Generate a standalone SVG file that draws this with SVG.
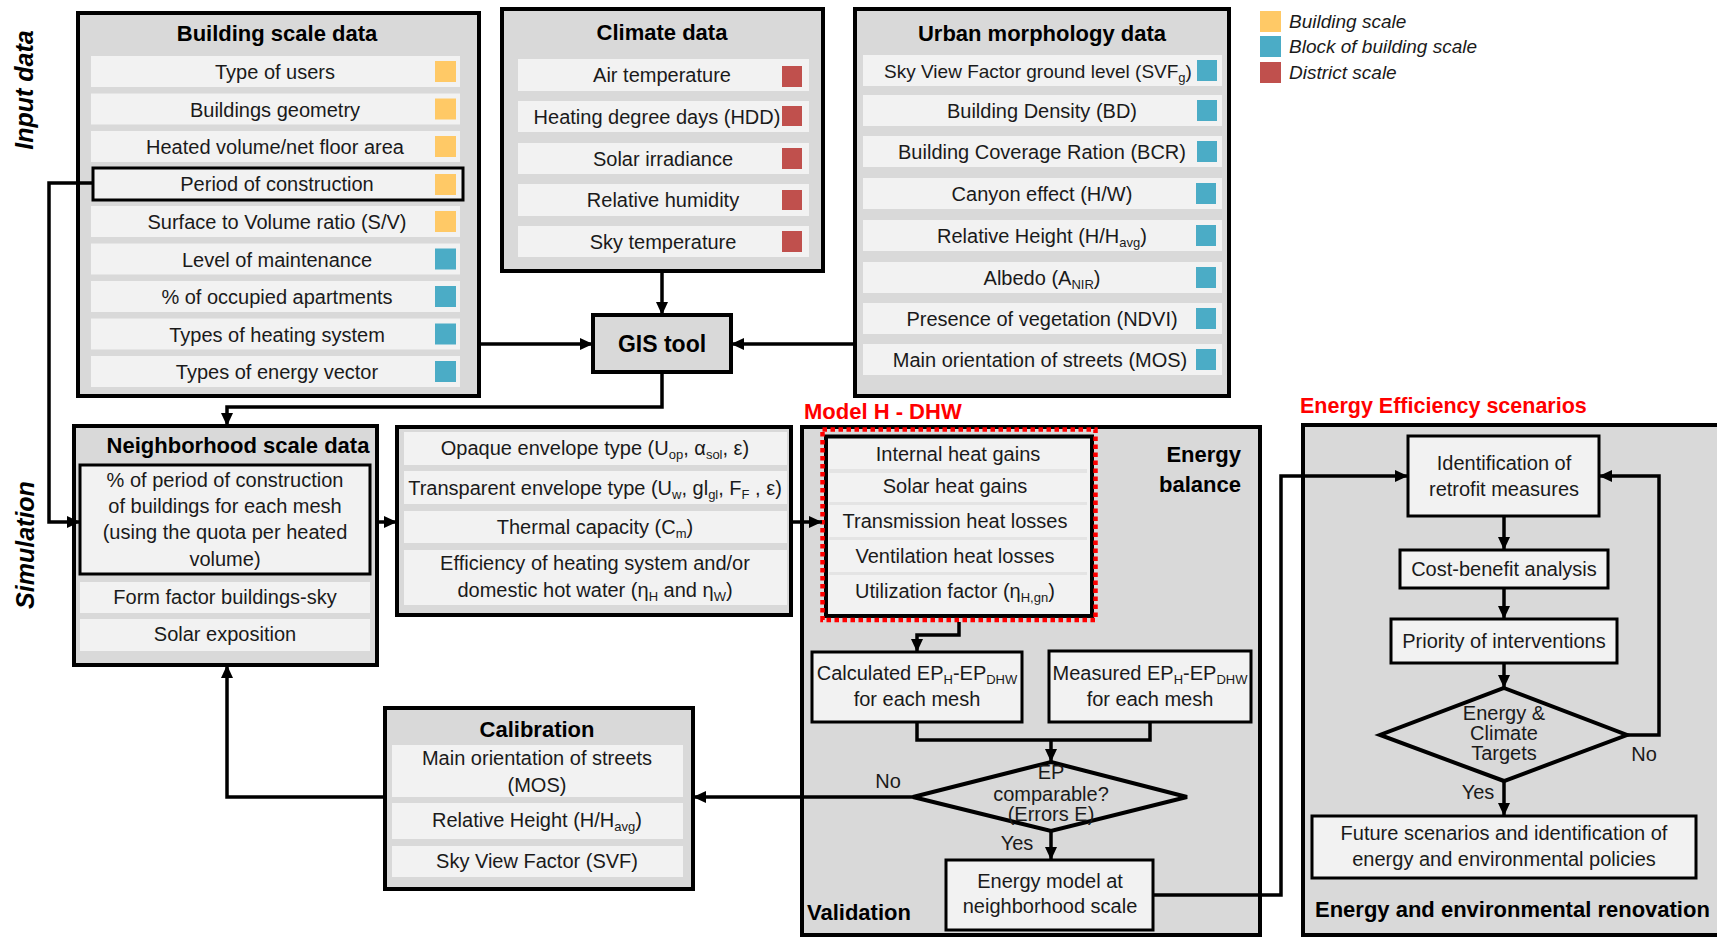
<svg xmlns="http://www.w3.org/2000/svg" width="1717" height="937" viewBox="0 0 1717 937">
<defs>
<marker id="a" markerWidth="14" markerHeight="12" refX="13" refY="6" orient="auto" markerUnits="userSpaceOnUse"><path d="M0,0 L13,6 L0,12 z" fill="#000"/></marker>
<style>
.box{fill:#D9D9D9;stroke:#000;stroke-width:4}
.row{fill:#F2F2F2}
.ol{fill:#F2F2F2;stroke:#000;stroke-width:3}
.t{font-family:'Liberation Sans',Arial,sans-serif;font-size:20px;fill:#1a1a1a;text-anchor:middle}
.h{font-family:'Liberation Sans',Arial,sans-serif;font-size:22px;font-weight:bold;fill:#000;text-anchor:middle}
.red{fill:#FF0000;text-anchor:start}
.lg{font-family:'Liberation Sans',Arial,sans-serif;font-size:19px;font-style:italic;fill:#1a1a1a}
.side{font-family:'Liberation Sans',Arial,sans-serif;font-size:25px;font-weight:bold;font-style:italic;fill:#000;text-anchor:middle}
.Y{fill:#FFC966}
.B{fill:#4BACC6}
.R{fill:#C0504D}
.c{fill:none;stroke:#000;stroke-width:3.5}
</style>
</defs>
<rect width="1717" height="937" fill="#fff"/>

<g id="side-labels">
<text class="side" transform="translate(33,90) rotate(-90)">Input data</text>
<text class="side" transform="translate(34,545) rotate(-90)">Simulation</text>
</g>

<g id="legend">
<rect class="Y" x="1260" y="11" width="21" height="21"/>
<rect class="B" x="1260" y="36" width="21" height="21"/>
<rect class="R" x="1260" y="62" width="21" height="21"/>
<text class="lg" x="1289" y="28">Building scale</text>
<text class="lg" x="1289" y="53">Block of building scale</text>
<text class="lg" x="1289" y="79">District scale</text>
</g>

<g id="building-scale-data">
<rect class="box" x="78" y="13" width="401" height="383"/>
<text class="h" x="277" y="41">Building scale data</text>
<rect class="row" x="91" y="56" width="369" height="31"/>
<rect class="row" x="91" y="93.5" width="369" height="31"/>
<rect class="row" x="91" y="131" width="369" height="31"/>
<rect class="ol" x="93" y="168" width="370" height="32"/>
<rect class="row" x="91" y="206" width="369" height="31"/>
<rect class="row" x="91" y="243.5" width="369" height="31"/>
<rect class="row" x="91" y="281" width="369" height="31"/>
<rect class="row" x="91" y="318.5" width="369" height="31"/>
<rect class="row" x="91" y="356" width="369" height="31"/>
<rect class="Y" x="435" y="61" width="21" height="21"/>
<rect class="Y" x="435" y="98.5" width="21" height="21"/>
<rect class="Y" x="435" y="136" width="21" height="21"/>
<rect class="Y" x="435" y="174" width="21" height="21"/>
<rect class="Y" x="435" y="211" width="21" height="21"/>
<rect class="B" x="435" y="248.5" width="21" height="21"/>
<rect class="B" x="435" y="286" width="21" height="21"/>
<rect class="B" x="435" y="323.5" width="21" height="21"/>
<rect class="B" x="435" y="361" width="21" height="21"/>
<text class="t" x="275" y="79">Type of users</text>
<text class="t" x="275" y="116.5">Buildings geometry</text>
<text class="t" x="275" y="154">Heated volume/net floor area</text>
<text class="t" x="277" y="191">Period of construction</text>
<text class="t" x="277" y="229">Surface to Volume ratio (S/V)</text>
<text class="t" x="277" y="266.5">Level of maintenance</text>
<text class="t" x="277" y="304">% of occupied apartments</text>
<text class="t" x="277" y="341.5">Types of heating system</text>
<text class="t" x="277" y="379">Types of energy vector</text>
</g>

<g id="climate-data">
<rect class="box" x="502" y="9" width="321" height="262"/>
<text class="h" x="662" y="40">Climate data</text>
<rect class="row" x="518" y="59" width="291" height="32"/>
<rect class="row" x="518" y="101" width="291" height="31"/>
<rect class="row" x="518" y="143" width="291" height="31"/>
<rect class="row" x="518" y="184" width="291" height="32"/>
<rect class="row" x="518" y="226" width="291" height="31"/>
<rect class="R" x="782" y="66" width="20" height="21"/>
<rect class="R" x="782" y="106" width="20" height="20"/>
<rect class="R" x="782" y="148" width="20" height="21"/>
<rect class="R" x="782" y="190" width="20" height="20"/>
<rect class="R" x="782" y="231" width="20" height="21"/>
<text class="t" x="662" y="82">Air temperature</text>
<text class="t" x="657" y="124">Heating degree days (HDD)</text>
<text class="t" x="663" y="166">Solar irradiance</text>
<text class="t" x="663" y="207">Relative humidity</text>
<text class="t" x="663" y="249">Sky temperature</text>
</g>

<g id="urban-morphology-data">
<rect class="box" x="855" y="9" width="374" height="387"/>
<text class="h" x="1042" y="41">Urban morphology data</text>
<rect class="row" x="863" y="55" width="359" height="31"/>
<rect class="row" x="863" y="95" width="359" height="31"/>
<rect class="row" x="863" y="136" width="359" height="31"/>
<rect class="row" x="863" y="178" width="359" height="31"/>
<rect class="row" x="863" y="220" width="359" height="31"/>
<rect class="row" x="863" y="262" width="359" height="31"/>
<rect class="row" x="863" y="303" width="359" height="31"/>
<rect class="row" x="863" y="344" width="359" height="31"/>
<rect class="B" x="1197" y="60" width="20" height="21"/>
<rect class="B" x="1197" y="100" width="20" height="21"/>
<rect class="B" x="1197" y="141" width="20" height="21"/>
<rect class="B" x="1196" y="183" width="20" height="21"/>
<rect class="B" x="1196" y="225" width="20" height="21"/>
<rect class="B" x="1196" y="267" width="20" height="21"/>
<rect class="B" x="1196" y="308" width="20" height="21"/>
<rect class="B" x="1196" y="349" width="20" height="21"/>
<text class="t" x="1038" y="78" style="font-size:19px">Sky View Factor ground level (SVF<tspan font-size="13" dy="4">g</tspan><tspan dy="-4">)</tspan></text>
<text class="t" x="1042" y="118">Building Density (BD)</text>
<text class="t" x="1042" y="159">Building Coverage Ration (BCR)</text>
<text class="t" x="1042" y="201">Canyon effect (H/W)</text>
<text class="t" x="1042" y="243">Relative Height (H/H<tspan font-size="13" dy="4">avg</tspan><tspan dy="-4">)</tspan></text>
<text class="t" x="1042" y="285">Albedo (A<tspan font-size="13" dy="4">NIR</tspan><tspan dy="-4">)</tspan></text>
<text class="t" x="1042" y="326">Presence of vegetation (NDVI)</text>
<text class="t" x="1040" y="367">Main orientation of streets (MOS)</text>
</g>

<g id="gis-tool">
<rect class="box" x="593" y="315" width="138" height="57"/>
<text class="h" x="662" y="352" style="font-size:23px">GIS tool</text>
</g>

<g id="neighborhood-scale-data">
<rect class="box" x="74" y="426" width="303" height="239"/>
<text class="h" x="238" y="453">Neighborhood scale data</text>
<rect class="ol" x="80" y="465" width="290" height="109"/>
<text class="t" x="225" y="487">% of period of construction</text>
<text class="t" x="225" y="513">of buildings for each mesh</text>
<text class="t" x="225" y="539">(using the quota per heated</text>
<text class="t" x="225" y="566">volume)</text>
<rect class="row" x="80" y="582" width="290" height="31"/>
<rect class="row" x="80" y="619" width="290" height="32"/>
<text class="t" x="225" y="604">Form factor buildings-sky</text>
<text class="t" x="225" y="641">Solar exposition</text>
</g>

<g id="building-parameters">
<rect class="box" x="397" y="427" width="394" height="188"/>
<rect class="row" x="404" y="432" width="383" height="33"/>
<rect class="row" x="404" y="471" width="383" height="33"/>
<rect class="row" x="404" y="511" width="383" height="32"/>
<rect class="row" x="404" y="550" width="383" height="55"/>
<text class="t" x="595" y="455">Opaque envelope type (U<tspan font-size="13" dy="4">op</tspan><tspan dy="-4">, α</tspan><tspan font-size="13" dy="4">sol</tspan><tspan dy="-4">, ε)</tspan></text>
<text class="t" x="595" y="495">Transparent envelope type (U<tspan font-size="13" dy="4">w</tspan><tspan dy="-4">, gl</tspan><tspan font-size="13" dy="4">gl</tspan><tspan dy="-4">, F</tspan><tspan font-size="13" dy="4">F</tspan><tspan dy="-4"> , ε)</tspan></text>
<text class="t" x="595" y="534">Thermal capacity (C<tspan font-size="13" dy="4">m</tspan><tspan dy="-4">)</tspan></text>
<text class="t" x="595" y="570">Efficiency of heating system and/or</text>
<text class="t" x="595" y="597">domestic hot water (η<tspan font-size="13" dy="4">H</tspan><tspan dy="-4"> and η</tspan><tspan font-size="13" dy="4">W</tspan><tspan dy="-4">)</tspan></text>
</g>

<g id="validation">
<rect class="box" x="802" y="427" width="458" height="508"/>
<text class="h" x="1241" y="462" style="text-anchor:end">Energy</text>
<text class="h" x="1241" y="492" style="text-anchor:end">balance</text>
<text class="h" x="807" y="920" style="text-anchor:start">Validation</text>
</g>

<g id="model-h-dhw">
<text class="h red" x="804" y="419">Model H - DHW</text>
<rect x="826" y="436.5" width="266" height="179.5" fill="#F2F2F2" stroke="#000" stroke-width="4"/>
<rect class="row" x="829" y="439" width="258" height="30"/>
<rect class="row" x="829" y="473" width="258" height="29"/>
<rect class="row" x="829" y="505" width="258" height="32"/>
<rect class="row" x="829" y="540" width="258" height="32"/>
<rect class="row" x="829" y="575" width="258" height="33"/>
<g fill="#E4E4E4"><rect x="829" y="469" width="258" height="4"/><rect x="829" y="502" width="258" height="3"/><rect x="829" y="537" width="258" height="3"/><rect x="829" y="572" width="258" height="3"/></g>
<text class="t" x="958" y="461">Internal heat gains</text>
<text class="t" x="955" y="493">Solar heat gains</text>
<text class="t" x="955" y="528">Transmission heat losses</text>
<text class="t" x="955" y="563">Ventilation heat losses</text>
<text class="t" x="955" y="598">Utilization factor (η<tspan font-size="13" dy="4">H,gn</tspan><tspan dy="-4">)</tspan></text>
<rect x="822.5" y="429.5" width="273" height="190.5" fill="none" stroke="#FF0000" stroke-width="4.5" stroke-dasharray="4.5 3.5"/>
</g>

<g id="calculated-ep">
<rect class="ol" x="812" y="652" width="210" height="70"/>
<text class="t" x="917" y="680">Calculated EP<tspan font-size="13" dy="4">H</tspan><tspan dy="-4">-EP</tspan><tspan font-size="13" dy="4">DHW</tspan></text>
<text class="t" x="917" y="706">for each mesh</text>
</g>

<g id="measured-ep">
<rect class="ol" x="1049" y="651" width="202" height="71"/>
<text class="t" x="1150" y="680">Measured EP<tspan font-size="13" dy="4">H</tspan><tspan dy="-4">-EP</tspan><tspan font-size="13" dy="4">DHW</tspan></text>
<text class="t" x="1150" y="706">for each mesh</text>
</g>

<g id="ep-comparable">
<polygon points="1051,762 1187,797 1051,831 913,797" fill="#D9D9D9" stroke="#000" stroke-width="4"/>
<text class="t" x="1051" y="779">EP</text>
<text class="t" x="1051" y="801">comparable?</text>
<text class="t" x="1051" y="821">(Errors E)</text>
</g>

<g id="energy-model">
<rect class="ol" x="946" y="860" width="207" height="70"/>
<text class="t" x="1050" y="888">Energy model at</text>
<text class="t" x="1050" y="913">neighborhood scale</text>
</g>

<g id="calibration">
<rect class="box" x="385" y="708" width="308" height="181"/>
<text class="h" x="537" y="737">Calibration</text>
<rect class="row" x="392" y="745" width="291" height="52"/>
<rect class="row" x="392" y="803" width="291" height="36"/>
<rect class="row" x="392" y="846" width="291" height="31"/>
<text class="t" x="537" y="765">Main orientation of streets</text>
<text class="t" x="537" y="792">(MOS)</text>
<text class="t" x="537" y="827">Relative Height (H/H<tspan font-size="13" dy="4">avg</tspan><tspan dy="-4">)</tspan></text>
<text class="t" x="537" y="868">Sky View Factor (SVF)</text>
</g>

<g id="energy-efficiency-scenarios">
<text class="h red" x="1300" y="413" style="font-size:21.5px">Energy Efficiency scenarios</text>
<rect class="box" x="1303" y="425" width="420" height="510"/>
<text class="h" x="1315" y="917" style="text-anchor:start">Energy and environmental renovation</text>
</g>

<g id="identification">
<rect class="ol" x="1408" y="436" width="191" height="80"/>
<text class="t" x="1504" y="470">Identification of</text>
<text class="t" x="1504" y="496">retrofit measures</text>
</g>

<g id="cost-benefit">
<rect class="ol" x="1400" y="550" width="208" height="38"/>
<text class="t" x="1504" y="576">Cost-benefit analysis</text>
</g>

<g id="priority">
<rect class="ol" x="1391" y="619" width="226" height="44"/>
<text class="t" x="1504" y="648">Priority of interventions</text>
</g>

<g id="targets">
<polygon points="1504,688 1627,735 1504,781 1380,735" fill="#D9D9D9" stroke="#000" stroke-width="4"/>
<text class="t" x="1504" y="720">Energy &amp;</text>
<text class="t" x="1504" y="740">Climate</text>
<text class="t" x="1504" y="760">Targets</text>
</g>

<g id="future">
<rect class="ol" x="1312" y="816" width="384" height="62"/>
<text class="t" x="1504" y="840">Future scenarios and identification of</text>
<text class="t" x="1504" y="866">energy and environmental policies</text>
</g>

<g id="connectors">
<path class="c" d="M479,344 H593" marker-end="url(#a)"/>
<path class="c" d="M855,344 H731" marker-end="url(#a)"/>
<path class="c" d="M662,271 V315" marker-end="url(#a)"/>
<path class="c" d="M662,372 V407 H227 V426" marker-end="url(#a)"/>
<path class="c" d="M93,183 H49 V522 H80" marker-end="url(#a)"/>
<path class="c" d="M377,522 H397" marker-end="url(#a)"/>
<path class="c" d="M791,522 H822" marker-end="url(#a)"/>
<path class="c" d="M959,622 V635 H917 V652" marker-end="url(#a)"/>
<path class="c" d="M917,722 V740 H1150 V722"/>
<path class="c" d="M1051,740 V762" marker-end="url(#a)"/>
<path class="c" d="M913,797 H693" marker-end="url(#a)"/>
<path class="c" d="M385,797 H227 V665" marker-end="url(#a)"/>
<path class="c" d="M1051,831 V860" marker-end="url(#a)"/>
<path class="c" d="M1153,895 H1281 V476 H1408" marker-end="url(#a)"/>
<path class="c" d="M1504,516 V550" marker-end="url(#a)"/>
<path class="c" d="M1504,588 V619" marker-end="url(#a)"/>
<path class="c" d="M1504,663 V688" marker-end="url(#a)"/>
<path class="c" d="M1627,735 H1659 V476 H1599" marker-end="url(#a)"/>
<path class="c" d="M1504,781 V816" marker-end="url(#a)"/>
<text class="t" x="888" y="788">No</text>
<text class="t" x="1017" y="850">Yes</text>
<text class="t" x="1644" y="761">No</text>
<text class="t" x="1478" y="799">Yes</text>
</g>
</svg>
